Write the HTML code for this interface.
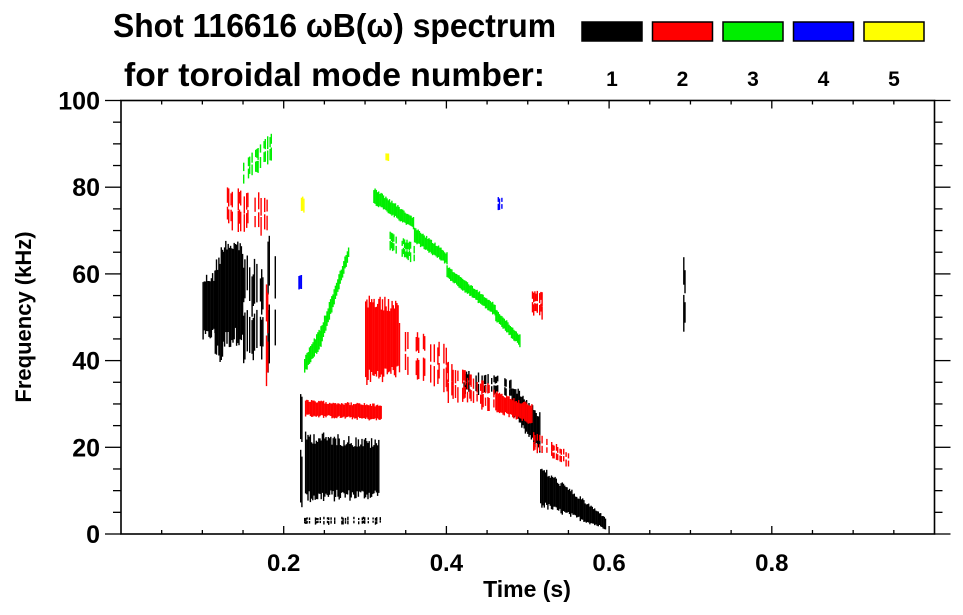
<!DOCTYPE html>
<html><head><meta charset="utf-8"><style>
body{margin:0;background:#fff;}
svg{display:block;font-family:"Liberation Sans",Arial,sans-serif;font-weight:bold;}
</style></head><body>
<svg id="chart" width="963" height="615" viewBox="0 0 963 615">
<g>
<text x="113" y="37" font-size="33" textLength="443" lengthAdjust="spacingAndGlyphs">Shot 116616 ωB(ω) spectrum</text>
<text x="124" y="86" font-size="33" textLength="421" lengthAdjust="spacingAndGlyphs">for toroidal mode number:</text>
</g>
<g id="legend"></g>
<g id="marks"></g>
<g id="axes"></g>
<text x="527" y="597" font-size="23" text-anchor="middle">Time (s)</text>
<text transform="translate(31,317) rotate(-90)" font-size="22" text-anchor="middle">Frequency (kHz)</text>
</svg>
<script>
const modeLabels=["1","2","3","4","5"];
const modeColors=["#000000","#ff0000","#00ee00","#0000ff","#ffff00"];
const xTicks=[0.2,0.4,0.6,0.8];
const yTicks=[0,20,40,60,80,100];
// segments: [t0,t1,fLo0,fHi0,fLo1,fHi1,sparse]
const mode1=[[0.100,0.115,44,60,45,61,0],[0.115,0.125,40,64,38,68,0],[0.125,0.150,42,70,44,68,0],[0.150,0.175,36,66,38,62,1],[0.180,0.190,35,72,35,70,1],[0.220,0.226,4,34,4,32,1],[0.226,0.316,7,24,8,22,0],[0.225,0.320,2,4,2,4,1],[0.415,0.480,32,38,31,36,1],[0.480,0.515,27,35,18,28,0],[0.515,0.595,6,16,1,4,0],[0.688,0.696,45,65,46,62,1]];
const mode2=[[0.130,0.180,70,80,68,79,1],[0.178,0.181,30,60,30,60,1],[0.226,0.320,27,31,26,30,0],[0.300,0.340,34,56,36,54,0],[0.340,0.400,35,50,32,44,1],[0.400,0.460,30,40,28,34,1],[0.460,0.505,28,33,25,30,0],[0.505,0.560,19,24,14,18,1],[0.505,0.520,50,57,49,56,1]];
const mode3=[[0.150,0.185,80,86,86,93,1],[0.225,0.245,37,41,43,48,0],[0.245,0.280,43,48,64,67,0],[0.310,0.360,76,80,70,73,0],[0.360,0.400,67,71,62,65,0],[0.400,0.460,59,62,50,53,0],[0.460,0.490,49,52,43,46,0],[0.330,0.360,65,70,62,67,1]];
const mode4=[[0.460,0.470,74,78,74,78,1],[0.218,0.221,56,60,56,60,0]];
const mode5=[[0.221,0.224,74,78,74,78,0],[0.325,0.328,86,88,86,88,0]];
const modes=[mode1,mode2,mode3,mode4,mode5];

const X0=121,X1=934.5,Y0=534,Y1=100.5;
const X=t=>X0+t*(X1-X0);
const Y=f=>Y0-f/100*(Y0-Y1);
const NS="http://www.w3.org/2000/svg";
function mk(tag,attrs,parent){const e=document.createElementNS(NS,tag);for(const k in attrs)e.setAttribute(k,attrs[k]);parent.appendChild(e);return e;}
// deterministic texture jitter (rendering style only)
let seed=12345;
function jr(){seed=(seed*1103515245+12345)&0x7fffffff;return seed/0x7fffffff;}

const legend=document.getElementById('legend');
modeLabels.forEach((lab,i)=>{
  const r=mk('rect',{x:582+i*70.5,y:22,width:60,height:19,fill:modeColors[i],stroke:'#000','stroke-width':1.5},legend);
  
  
  const t=mk('text',{x:612+i*70.5,y:86,'font-size':21,'text-anchor':'middle'},legend);
  t.textContent=lab;
  
  
});

const marks=document.getElementById('marks');
modes.forEach((segs,mi)=>{
  const g=mk('g',{fill:modeColors[mi]},marks);
  
  
  segs.forEach(s=>{
    const [t0,t1,a0,b0,a1,b1,sp]=s;
    const xa=X(t0),xb=X(t1);
    for(let x=xa;x<xb;x+=1.2){
      if(sp && jr()<0.5) continue;
      const u=(xb-xa)>0?(x-xa)/(xb-xa):0;
      const lo=a0+(a1-a0)*u,hi=b0+(b1-b0)*u;
      const span=hi-lo;
      const ytop=Y(hi-span*0.18*jr()), ybot=Y(lo+span*0.18*jr());
      const n=sp?2:1;
      for(let k=0;k<n;k++){
        const y1=ytop+(ybot-ytop)*k/n, y2=ytop+(ybot-ytop)*(k+1)/n - (n>1?(ybot-ytop)*0.2*jr():0);
        const r=mk('rect',{x:x.toFixed(1),y:y1.toFixed(1),width:1.4,height:Math.max(1,y2-y1).toFixed(1)},g);
        
        
      }
    }
  });
});

const axes=document.getElementById('axes');
const frame=mk('rect',{x:X0,y:Y1,width:X1-X0,height:Y0-Y1,fill:'none',stroke:'#000','stroke-width':1.6},axes);


for(let i=1;i<20;i++){const t=i*0.05,x=X(t),maj=(i%4===0);
  mk('line',{x1:x,x2:x,y1:Y0,y2:Y0-(maj?8:4),stroke:'#000','stroke-width':1.3},axes);
  mk('line',{x1:x,x2:x,y1:Y1,y2:Y1+(maj?8:4),stroke:'#000','stroke-width':1.3},axes);}
for(let i=0;i<=20;i++){const f=i*5,y=Y(f),maj=(i%4===0);
  mk('line',{x1:X0,x2:X0-(maj?16:8),y1:y,y2:y,stroke:'#000','stroke-width':1.3},axes);
  mk('line',{x1:X1,x2:X1+(maj?16:8),y1:y,y2:y,stroke:'#000','stroke-width':1.3},axes);}
xTicks.forEach(t=>{const e=mk('text',{x:X(t),y:571,'font-size':24,'text-anchor':'middle'},axes);e.textContent=t.toFixed(1);
  
  });
yTicks.forEach(f=>{const e=mk('text',{x:100,y:Y(f)+9,'font-size':25,'text-anchor':'end'},axes);e.textContent=String(f);
  
  });
</script>
</body></html>
